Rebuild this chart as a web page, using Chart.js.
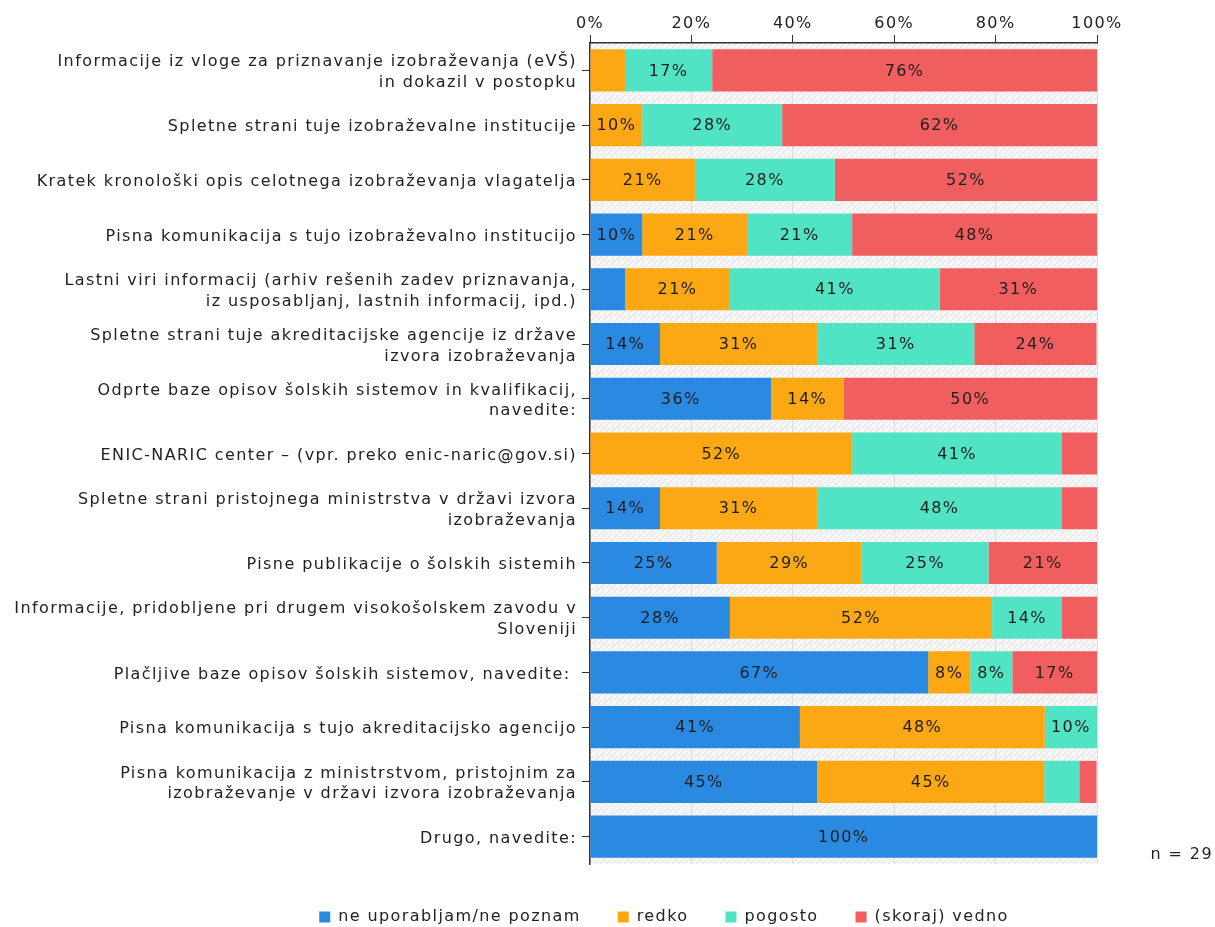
<!DOCTYPE html>
<html>
<head>
<meta charset="utf-8">
<script src="https://cdn.jsdelivr.net/npm/chart.js@4.4.1/dist/chart.umd.min.js"></script>
<style>
  html, body { margin: 0; padding: 0; background: #fff; }
  #wrap { position: relative; width: 1215px; height: 927px; }
</style>
</head>
<body>
<div id="wrap"><canvas id="chart"></canvas></div>
<script>
// categories (multi-line labels as arrays)
const categories = [
    ['Informacije iz vloge za priznavanje izobraževanja (eVŠ)', 'in dokazil v postopku'],
    'Spletne strani tuje izobraževalne institucije',
    'Kratek kronološki opis celotnega izobraževanja vlagatelja',
    'Pisna komunikacija s tujo izobraževalno institucijo',
    ['Lastni viri informacij (arhiv rešenih zadev priznavanja,', 'iz usposabljanj, lastnih informacij, ipd.)'],
    ['Spletne strani tuje akreditacijske agencije iz države', 'izvora izobraževanja'],
    ['Odprte baze opisov šolskih sistemov in kvalifikacij,', 'navedite:'],
    'ENIC-NARIC center – (vpr. preko enic-naric@gov.si)',
    ['Spletne strani pristojnega ministrstva v državi izvora', 'izobraževanja'],
    'Pisne publikacije o šolskih sistemih',
    ['Informacije, pridobljene pri drugem visokošolskem zavodu v', 'Sloveniji'],
    'Plačljive baze opisov šolskih sistemov, navedite: ',
    'Pisna komunikacija s tujo akreditacijsko agencijo',
    ['Pisna komunikacija z ministrstvom, pristojnim za', 'izobraževanje v državi izvora izobraževanja'],
    'Drugo, navedite:'
];

// series values in percent
const neUporabljam = [0, 0, 0, 10.3, 6.9, 13.8, 35.7, 0, 13.8, 25, 27.6, 66.7, 41.4, 44.8, 100];
const redko        = [6.9, 10.3, 20.7, 20.7, 20.7, 31.0, 14.3, 51.7, 31.0, 28.6, 51.7, 8.3, 48.3, 44.8, 0];
const pogosto      = [17.2, 27.6, 27.6, 20.7, 41.4, 31.0, 0, 41.4, 48.3, 25, 13.8, 8.3, 10.3, 6.9, 0];
const vedno        = [75.9, 62.1, 51.7, 48.3, 31.0, 24.1, 50, 6.9, 6.9, 21.4, 6.9, 16.7, 0, 3.4, 0];

const seriesNames = ['ne uporabljam/ne poznam', 'redko', 'pogosto', '(skoraj) vedno'];
const seriesColors = ['#2a8ae2', '#fca714', '#51e4c4', '#f15e60'];
const tickValues = [0, 20, 40, 60, 80, 100];
const sampleNote = 'n = 29';

const FONT = 'DejaVu Sans, Verdana, sans-serif';
const SPACING = '1.4px';

// wider letter spacing, like the reference (canvas state is reset on resize)
const letterSpacing = {
    id: 'letterSpacing',
    beforeUpdate(chart) { chart.ctx.letterSpacing = SPACING; },
    beforeDraw(chart) { chart.ctx.letterSpacing = SPACING; }
};

// legend sits a bit right of the canvas centre and slightly lower
const moveLegend = {
    id: 'moveLegend',
    afterLayout(chart) {
        const lg = chart.legend;
        const w = lg.right - lg.left;
        lg.left = 664 - w / 2;
        lg.right = lg.left + w;
        lg.top += 8;
        lg.bottom += 8;
    }
};

// hatched background of the plot area
const hatchBackground = {
    id: 'hatchBackground',
    beforeDraw(chart) {
        const { ctx, chartArea } = chart;
        const p = document.createElement('canvas');
        p.width = 6; p.height = 6;
        const pc = p.getContext('2d');
        pc.fillStyle = '#f6f6f6';
        pc.fillRect(0, 0, 6, 6);
        pc.strokeStyle = '#e2e2e2';
        pc.lineWidth = 1;
        pc.beginPath();
        pc.moveTo(0, 6); pc.lineTo(6, 0);
        pc.moveTo(-1, 1); pc.lineTo(1, -1);
        pc.moveTo(5, 7); pc.lineTo(7, 5);
        pc.stroke();
        ctx.save();
        ctx.fillStyle = ctx.createPattern(p, 'repeat');
        ctx.fillRect(chartArea.left, chartArea.top, chartArea.right - chartArea.left, chartArea.bottom - chartArea.top);
        ctx.restore();
    }
};

// percentage labels in the middle of each segment
const segmentLabels = {
    id: 'segmentLabels',
    afterDatasetsDraw(chart) {
        const { ctx } = chart;
        ctx.save();
        ctx.font = '16px ' + FONT;
        ctx.fillStyle = '#1e1e1e';
        ctx.textAlign = 'center';
        ctx.textBaseline = 'middle';
        chart.data.datasets.forEach((ds, i) => {
            const meta = chart.getDatasetMeta(i);
            meta.data.forEach((bar, j) => {
                const v = ds.data[j];
                if (v < 8) return;
                ctx.fillText(Math.round(v) + '%', (bar.x + bar.base) / 2, bar.y + 1);
            });
        });
        ctx.restore();
    }
};

// "n = 29" note
const noteText = {
    id: 'noteText',
    afterDraw(chart) {
        const { ctx } = chart;
        ctx.save();
        ctx.font = '16px ' + FONT;
        ctx.fillStyle = '#222';
        ctx.textAlign = 'right';
        ctx.textBaseline = 'middle';
        ctx.fillText(sampleNote, 1213, 855);
        ctx.restore();
    }
};

const datasets = [neUporabljam, redko, pogosto, vedno].map((values, i) => ({
    label: seriesNames[i],
    data: values,
    backgroundColor: seriesColors[i],
    borderWidth: 0,
    categoryPercentage: 1,
    barPercentage: 0.77
}));

new Chart(document.getElementById('chart'), {
    type: 'bar',
    data: { labels: categories, datasets },
    plugins: [letterSpacing, moveLegend, hatchBackground, segmentLabels, noteText],
    options: {
        indexAxis: 'y',
        responsive: true,
        maintainAspectRatio: false,
        animation: false,
        layout: { padding: { left: 2, right: 118, top: 0, bottom: 0 } },
        scales: {
            x: {
                position: 'top',
                stacked: true,
                min: 0,
                max: 100,
                afterBuildTicks: (scale) => {
                    scale.ticks = tickValues.map(v => ({ value: v }));
                },
                afterFit: (scale) => { scale.height = 43; },
                grid: {
                    color: '#dcdcdc',
                    tickColor: '#333',
                    tickLength: 8,
                    drawTicks: true
                },
                border: { display: true, color: '#333', width: 1.5 },
                ticks: {
                    color: '#222',
                    padding: 2,
                    font: { family: FONT, size: 16 },
                    callback: (v) => v + '%'
                }
            },
            y: {
                stacked: true,
                afterFit: (scale) => { scale.width = 590 - 2; },
                grid: {
                    offset: false,
                    color: 'rgba(0,0,0,0)',
                    tickColor: '#333',
                    tickLength: 8
                },
                border: { display: true, color: '#333', width: 1.5 },
                ticks: {
                    color: '#222',
                    padding: 5,
                    labelOffset: 2,
                    autoSkip: false,
                    font: { family: FONT, size: 16, lineHeight: 1.3 }
                }
            }
        },
        plugins: {
            legend: {
                position: 'bottom',
                labels: {
                    boxWidth: 11,
                    boxHeight: 11,
                    padding: 37,
                    color: '#222',
                    font: { family: FONT, size: 16 }
                }
            },
            tooltip: { enabled: false }
        }
    }
});
</script>
</body>
</html>
